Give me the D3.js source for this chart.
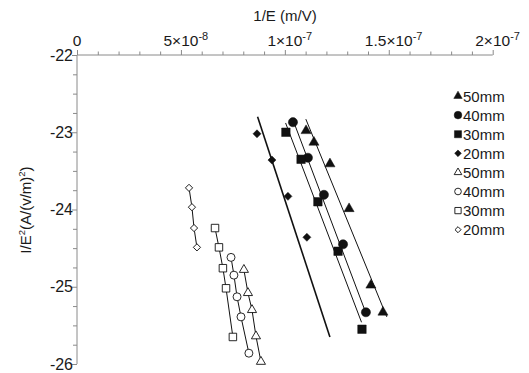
<!DOCTYPE html>
<html><head><meta charset="utf-8">
<script src="https://cdn.jsdelivr.net/npm/d3@7"></script>
<style>
body{margin:0;background:#fff;}
svg{display:block;font-family:"Liberation Sans",Arial,Helvetica,sans-serif;}
</style></head>
<body><svg id="c" width="529" height="373"></svg>
<script>
// ---- data (x in m/V, y = ln(I/E^2)) ----
const seriesNames = ["50mm","40mm","30mm","20mm","50mm","40mm","30mm","20mm"];
const seriesShapes = ["triangle","circle","square","diamond","triangle","circle","square","diamond"];
const seriesFilled = [true,true,true,true,false,false,false,false];

const fill50x = [1.102e-7,1.140e-7,1.217e-7,1.309e-7,1.414e-7,1.472e-7];
const fill50y = [-22.98,-23.13,-23.41,-23.99,-24.98,-25.33];
const fill40x = [1.039e-7,1.111e-7,1.188e-7,1.280e-7,1.390e-7];
const fill40y = [-22.87,-23.33,-23.81,-24.45,-25.33];
const fill30x = [1.005e-7,1.078e-7,1.159e-7,1.256e-7,1.371e-7];
const fill30y = [-23.00,-23.35,-23.90,-24.54,-25.55];
const fill20x = [0.866e-7,0.938e-7,1.015e-7,1.106e-7];
const fill20y = [-23.02,-23.36,-23.83,-24.36];

const open50x = [0.803e-7,0.8225e-7,0.842e-7,0.861e-7,0.885e-7];
const open50y = [-24.78,-25.08,-25.30,-25.64,-25.97];
const open40x = [0.741e-7,0.755e-7,0.770e-7,0.789e-7,0.827e-7];
const open40y = [-24.62,-24.85,-25.13,-25.39,-25.86];
const open30x = [0.664e-7,0.683e-7,0.702e-7,0.717e-7,0.750e-7];
const open30y = [-24.24,-24.49,-24.76,-25.02,-25.65];
const open20x = [0.539e-7,0.553e-7,0.563e-7,0.577e-7];
const open20y = [-23.72,-23.97,-24.24,-24.49];

// fitted lines for filled series (endpoints): [x1, y1, x2, y2]
const fitLine50 = [1.101e-7,-22.83,1.4905e-7,-25.39];
const fitLine40 = [1.039e-7,-22.84,1.390e-7,-25.34];
const fitLine30 = [1.0036e-7,-22.88,1.369e-7,-25.46];
const fitLine20 = [0.8688e-7,-22.80,1.2168e-7,-25.65];

const xTickValues = [0,5e-8,1e-7,1.5e-7,2e-7];
const xTickMantissa = ["0","5×10","1×10","1.5×10","2×10"];
const xTickExp = ["","-8","-7","-7","-7"];
const yTickValues = [-22,-23,-24,-25,-26];

const xTitle = "1/E (m/V)";
const yTitleParts = ["I/E","2","(A/(v/m)","2",")"];

// ---- build ----
const seriesX = [fill50x,fill40x,fill30x,fill20x,open50x,open40x,open30x,open20x];
const seriesY = [fill50y,fill40y,fill30y,fill20y,open50y,open40y,open30y,open20y];
const fitLines = [fitLine50,fitLine40,fitLine30,fitLine20];

const svg = d3.select("#c");
const x = d3.scaleLinear().domain([0,2e-7]).range([77,492.7]);
const y = d3.scaleLinear().domain([-22,-26]).range([55,364]);
const axisColor = "#8a8a8a";
const txt = "#1a1a1a";

// X axis (top)
const gx = svg.append("g").attr("transform","translate(0,55)");
gx.call(d3.axisTop(x).tickValues(d3.range(0,21).map(i=>i*1e-8)).tickSize(3.5).tickFormat(""));
gx.selectAll(".tick").filter(d=>xTickValues.some(v=>Math.abs(v-d)<1e-12)).select("line").attr("y2",-5);
gx.select(".domain").attr("d",`M${x(0)},0H${x(2e-7)}`);
gx.selectAll("path,line").attr("stroke",axisColor).attr("stroke-width",1);

xTickValues.forEach((v,i)=>{
  const t = svg.append("text").attr("x",x(v)).attr("y",46).attr("text-anchor","start")
    .attr("font-size",15.5).attr("fill",txt);
  const m = t.append("tspan").text(xTickMantissa[i]);
  if(xTickExp[i]) t.append("tspan").attr("dy",-6).attr("font-size",11).text(xTickExp[i]);
  const w = m.node().getComputedTextLength();
  t.attr("x",x(v)-w/2);
});
svg.append("text").attr("x",285).attr("y",21).attr("text-anchor","middle")
  .attr("font-size",15).attr("fill",txt).text(xTitle);

// Y axis (left)
const gy = svg.append("g").attr("transform","translate(77,0)");
gy.call(d3.axisLeft(y).tickValues(d3.range(0,17).map(i=>-22-i*0.25)).tickSize(4).tickFormat(""));
gy.selectAll(".tick").filter(d=>Number.isInteger(d)).select("line").attr("x2",-5);
gy.select(".domain").attr("d",`M0,${y(-22)}V${y(-26)}`);
gy.selectAll("path,line").attr("stroke",axisColor).attr("stroke-width",1);
yTickValues.forEach(v=>{
  svg.append("text").attr("x",73).attr("y",y(v)+5.5).attr("text-anchor","end")
    .attr("font-size",16).attr("fill",txt).text(v);
});
const yt = svg.append("text").attr("transform","translate(31,210) rotate(-90)")
  .attr("text-anchor","middle").attr("font-size",15).attr("fill",txt);
yTitleParts.forEach((p,i)=>{
  if(i%2===1) yt.append("tspan").attr("dy",-6).attr("font-size",9.5).text(p);
  else yt.append("tspan").attr("dy",i===0?0:6).text(p);
});

// fit lines
fitLines.forEach((l,i)=>{
  svg.append("line").attr("x1",x(l[0])).attr("y1",y(l[1])).attr("x2",x(l[2])).attr("y2",y(l[3]))
    .attr("stroke","#111").attr("stroke-width",i===3?1.6:1);
});
// open series connecting lines
const lineGen = d3.line().x(d=>x(d[0])).y(d=>y(d[1]));
for(let s=4;s<8;s++){
  const pts = seriesX[s].map((v,i)=>[v,seriesY[s][i]]);
  svg.append("path").attr("d",lineGen(pts)).attr("fill","none").attr("stroke","#111").attr("stroke-width",1);
}

function symbolPath(shape, filled, scale){
  const k = scale||1;
  if(shape==="triangle") return {d:d3.symbol(d3.symbolTriangle, (filled?44:36)*k)(), rot:0};
  if(shape==="circle") return {d:d3.symbol(d3.symbolCircle, (filled?66:50)*k)(), rot:0};
  if(shape==="square") return {d:d3.symbol(d3.symbolSquare, (filled?72:56)*k)(), rot:0};
  return {d:d3.symbol(d3.symbolSquare, (filled?32:26)*k)(), rot:45};
}
function drawMarker(g, px, py, shape, filled, scale){
  const s = symbolPath(shape, filled, scale);
  g.append("path").attr("d",s.d)
    .attr("transform",`translate(${px},${py}) rotate(${s.rot})`)
    .attr("fill",filled?"#111":"#fff").attr("stroke","#111")
    .attr("stroke-width",filled?0.5:0.9);
}
const gm = svg.append("g");
for(let s=0;s<8;s++){
  seriesX[s].forEach((v,i)=>drawMarker(gm, x(v), y(seriesY[s][i]), seriesShapes[s], seriesFilled[s]));
}

// legend
const lg = svg.append("g");
seriesNames.forEach((n,i)=>{
  const ly = 96 + i*19.1;
  drawMarker(lg, 458, ly, seriesShapes[i], seriesFilled[i], 0.7);
  lg.append("text").attr("x",463).attr("y",ly+5.5).attr("font-size",15).attr("fill",txt).text(n);
});
</script></body></html>
